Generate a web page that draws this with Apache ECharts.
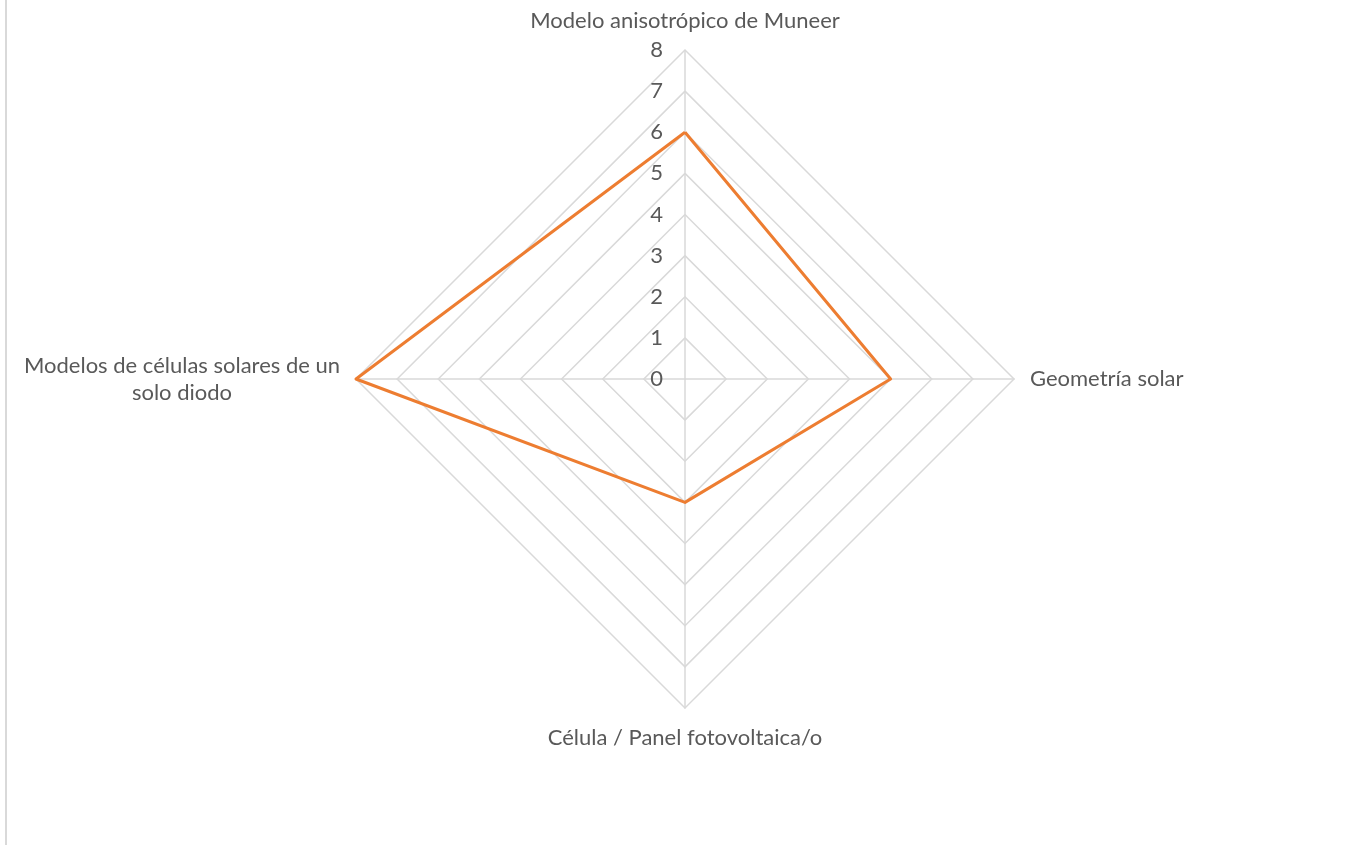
<!DOCTYPE html>
<html>
<head>
<meta charset="utf-8">
<script src="https://cdn.jsdelivr.net/npm/echarts@6/dist/echarts.min.js"></script>
<style>
  html, body { margin: 0; padding: 0; background: #fff; }
  #chart { width: 1348px; height: 845px; }
</style>
</head>
<body>
<div id="chart"></div>
<script>
// Radar axes in drawing order (ECharts lays them out counter-clockwise from the top)
const categories = [
  'Modelo anisotrópico de Muneer',
  'Modelos de células solares de un\nsolo diodo',
  'Célula / Panel fotovoltaica/o',
  'Geometría solar'
];
const values = [6, 8, 3, 5];
const axisMax = 8;
const tickLabels = ['0', '1', '2', '3', '4', '5', '6', '7', '8'];

const textColor = '#595959';
const gridColor = '#d9d9d9';
const fontFamily = 'Lato, "Open Sans", sans-serif';
const fontSize = 22;

const chart = echarts.init(document.getElementById('chart'));

// Multi-line names get a fixed-width box so their lines stay centred on each other
function nameFormatter(name) {
  const lines = name.split('\n');
  if (lines.length === 1) return name;
  return lines.map(l => '{c|' + l + '}').join('\n');
}

chart.setOption({
  animation: false,
  radar: {
    center: [685, 379],
    radius: 329,
    startAngle: 90,
    shape: 'polygon',
    splitNumber: tickLabels.length - 1,
    nameGap: 16,
    axisName: {
      color: textColor,
      fontFamily: fontFamily,
      fontSize: fontSize,
      lineHeight: 27,
      formatter: nameFormatter,
      rich: {
        c: {
          width: 316,
          align: 'center',
          color: textColor,
          fontFamily: fontFamily,
          fontSize: fontSize,
          lineHeight: 27
        }
      }
    },
    indicator: categories.map((name, i) => {
      const ind = { name: name, min: 0, max: axisMax };
      if (i === 0) {
        ind.axisLabel = {
          show: true,
          color: textColor,
          fontFamily: fontFamily,
          fontSize: fontSize,
          margin: 22,
          formatter: v => tickLabels[Math.round(v)]
        };
      }
      return ind;
    }),
    axisLabel: { show: false },
    axisTick: { show: false },
    axisLine: { lineStyle: { color: gridColor, width: 1.5 } },
    splitLine: { lineStyle: { color: gridColor, width: 1.5 } },
    splitArea: { show: false }
  },
  series: [{
    type: 'radar',
    symbol: 'none',
    lineStyle: { color: '#ED7D31', width: 3 },
    itemStyle: { color: '#ED7D31' },
    data: [{ value: values }]
  }],
  graphic: [{
    type: 'line',
    shape: { x1: 6, y1: 0, x2: 6, y2: 845 },
    style: { stroke: '#d9d9d9', lineWidth: 2 }
  }]
});
</script>
</body>
</html>
